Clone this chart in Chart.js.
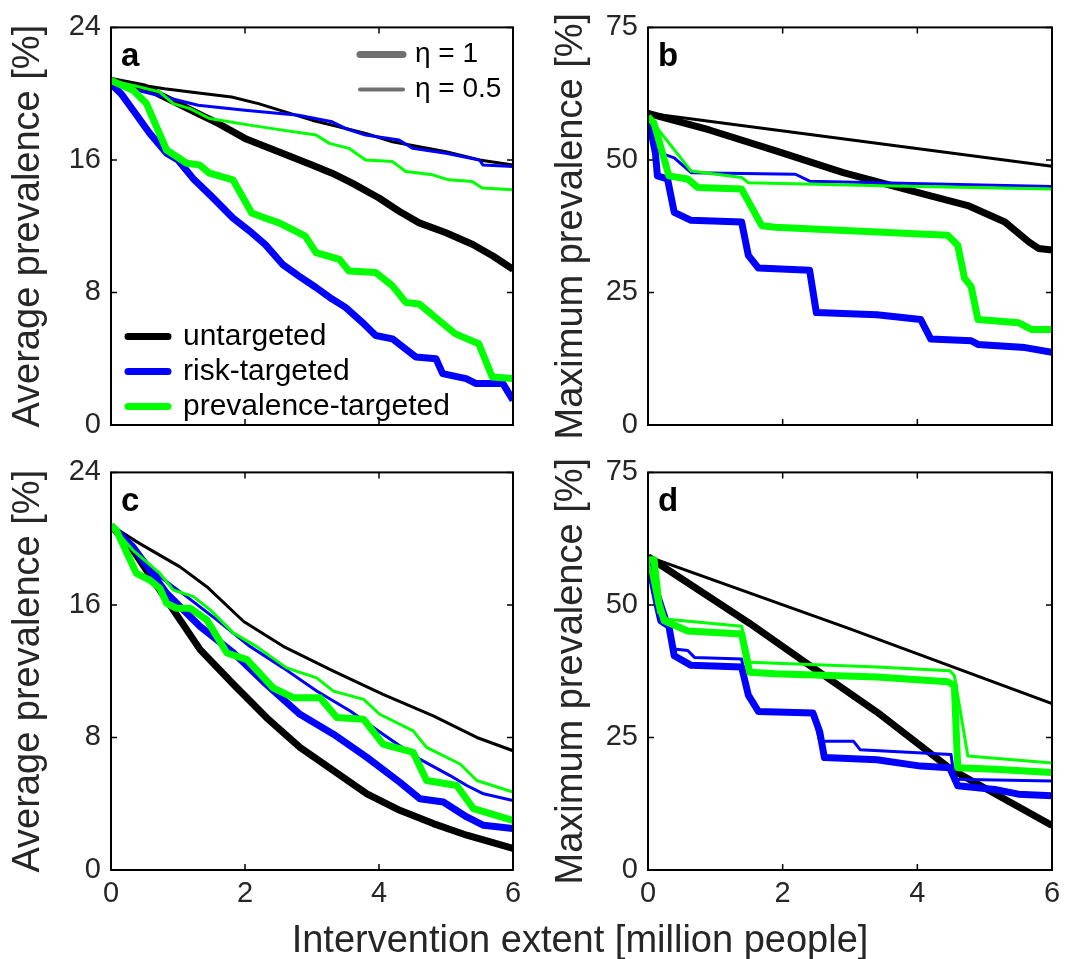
<!DOCTYPE html>
<html lang="en">
<head>
<meta charset="UTF-8">
<title>Average and maximum prevalence vs intervention extent</title>
<script src="https://cdn.jsdelivr.net/npm/chart.js"></script>
<style>
  body { margin: 0; background: #fff; font-family: 'Liberation Sans', Arial, sans-serif; }
  #wrap { position: relative; width: 1072px; height: 959px; overflow: hidden; }
  .panel { position: absolute; }
  #xtitle {
    position: absolute; left: 280px; top: 920px; width: 600px;
    text-align: center; font-size: 38px; line-height: 38px; color: #262626;
  }
</style>
</head>
<body>
<div id="wrap">
  <div class="panel" style="left:0px;top:0px"><canvas id="ca" width="536" height="480"></canvas></div>
  <div class="panel" style="left:536px;top:0px"><canvas id="cb" width="536" height="480"></canvas></div>
  <div class="panel" style="left:0px;top:445px"><canvas id="cc" width="536" height="480"></canvas></div>
  <div class="panel" style="left:536px;top:445px"><canvas id="cd" width="536" height="480"></canvas></div>
  <div id="xtitle">Intervention extent [million people]</div>
</div>

<script>
// tick values
var xTicks = [0, 2, 4, 6];
var avgTicks = [0, 8, 16, 24];
var maxTicks = [0, 25, 50, 75];

// ---- panel a: average prevalence, eta = 1 (thick) and eta = 0.5 (thin)
var aUntg1 = [[0,20.8],[0.5,20.4],[0.9,19.6],[1.3,18.8],[1.6,18.2],[2.0,17.3],[2.5,16.5],[3.0,15.7],[3.3,15.2],[3.6,14.6],[4.0,13.7],[4.3,12.9],[4.6,12.2],[5.0,11.6],[5.4,10.9],[5.7,10.2],[6,9.4]];
var aUntg05 = [[0,20.8],[0.8,20.3],[1.4,20.0],[1.8,19.8],[2.2,19.4],[2.6,18.9],[3.0,18.4],[3.4,18.0],[3.8,17.6],[4.2,17.1],[4.6,16.8],[5.0,16.5],[5.5,16.0],[6,15.7]];
var aRisk1 = [[0,20.6],[0.15,20.0],[0.33,19.0],[0.58,17.6],[0.83,16.4],[1.0,16.0],[1.22,14.9],[1.5,13.8],[1.82,12.5],[2.1,11.6],[2.3,10.9],[2.56,9.7],[2.8,9.0],[3.06,8.3],[3.3,7.6],[3.5,7.1],[3.75,6.2],[3.95,5.4],[4.2,5.2],[4.55,4.1],[4.85,4.0],[4.95,3.1],[5.3,2.8],[5.45,2.5],[5.85,2.5],[6,1.5]];
var aRisk05 = [[0,20.8],[0.3,20.3],[0.7,19.9],[1.3,19.3],[2.0,19.0],[2.8,18.7],[3.3,18.3],[3.5,17.9],[3.8,17.5],[4.3,17.2],[4.5,16.7],[5.0,16.4],[5.5,16.0],[5.55,15.7],[6,15.6]];
var aPrev1 = [[0,20.8],[0.33,20.2],[0.53,19.4],[0.68,18.0],[0.83,16.6],[1.13,15.8],[1.32,15.7],[1.47,15.2],[1.82,14.8],[2.1,12.8],[2.3,12.5],[2.51,12.2],[2.9,11.4],[3.06,10.4],[3.41,10.0],[3.55,9.3],[3.95,9.2],[4.2,8.4],[4.4,7.4],[4.6,7.3],[4.9,6.3],[5.14,5.5],[5.49,4.9],[5.69,2.9],[6,2.8]];
var aPrev05 = [[0,20.8],[0.33,20.5],[0.73,20.1],[0.93,19.4],[1.18,19.1],[1.47,18.5],[2.07,18.1],[2.56,17.8],[3.06,17.5],[3.26,17.0],[3.55,16.7],[3.8,16.0],[4.2,15.9],[4.4,15.3],[4.8,15.1],[5.04,14.8],[5.39,14.7],[5.54,14.3],[6,14.2]];

// ---- panel b: maximum prevalence
var bUntg1 = [[0,58.8],[0.9,55.7],[1.9,51.7],[2.9,47.6],[3.9,44.2],[4.75,41.4],[5.3,38.3],[5.66,34.5],[5.8,33.3],[6,33.0]];
var bUntg05 = [[0,58.8],[3,53.8],[6,48.8]];
var bRisk1 = [[0,58.2],[0.11,51.3],[0.14,47.0],[0.29,46.4],[0.39,40.1],[0.64,38.6],[1.39,38.3],[1.49,32.0],[1.64,29.6],[2.4,29.2],[2.5,21.2],[3.4,20.8],[4.05,19.9],[4.2,16.2],[4.8,15.9],[4.9,15.2],[5.6,14.6],[6,13.7]];
var bRisk05 = [[0,58.2],[0.19,51.3],[0.39,50.4],[0.64,47.6],[2.19,47.3],[2.4,46.0],[3.4,45.7],[6,45.0]];
var bPrev1 = [[0,58.2],[0.09,56.9],[0.31,47.0],[0.59,46.4],[0.74,44.8],[1.39,44.5],[1.69,37.6],[1.89,37.3],[3.4,36.4],[4.45,35.8],[4.6,33.9],[4.7,27.7],[4.8,26.1],[4.9,19.9],[5.5,19.3],[5.7,18.0],[6,18.0]];
var bPrev05 = [[0,58.2],[0.64,47.9],[1.39,46.7],[1.49,45.7],[3.65,45.1],[6,44.5]];

// ---- panel c: average prevalence, second scenario
var cUntg1 = [[0,20.8],[0.33,19.3],[0.83,16.3],[1.33,13.3],[1.83,11.2],[2.32,9.2],[2.82,7.4],[3.32,6.0],[3.82,4.6],[4.31,3.6],[4.81,2.8],[5.31,2.1],[6,1.3]];
var cUntg05 = [[0,20.8],[0.43,19.7],[1.03,18.3],[1.43,17.1],[1.98,15.0],[2.57,13.5],[3.32,12.0],[4.06,10.6],[4.81,9.3],[5.46,8.0],[6,7.2]];
var cRisk1 = [[0,20.8],[0.33,19.5],[0.83,16.7],[1.33,14.7],[1.83,13.1],[2.32,11.2],[2.82,9.4],[3.32,8.2],[3.82,6.8],[4.31,5.3],[4.61,4.3],[4.96,4.1],[5.31,3.2],[5.56,2.7],[6,2.5]];
var cRisk05 = [[0,20.8],[0.33,19.5],[0.73,17.7],[1.13,16.5],[1.58,15.1],[2.07,13.5],[2.57,12.2],[3.07,10.8],[3.57,9.6],[4.06,8.2],[4.56,6.8],[5.06,5.7],[5.31,5.1],[5.56,4.6],[6,4.2]];
var cPrev1 = [[0,20.8],[0.08,20.5],[0.38,17.9],[0.58,17.5],[0.73,17.0],[0.83,16.1],[0.98,15.8],[1.18,15.8],[1.43,15.1],[1.73,13.1],[2.03,12.7],[2.42,11.0],[2.72,10.4],[3.12,10.4],[3.37,9.2],[3.77,9.1],[4.06,7.6],[4.51,7.1],[4.71,5.4],[5.16,5.1],[5.41,3.7],[6,3.0]];
var cPrev05 = [[0,20.8],[0.33,19.3],[0.73,17.9],[0.93,16.9],[1.23,16.5],[1.48,15.7],[1.83,14.3],[2.17,13.5],[2.62,12.2],[3.07,11.6],[3.32,10.8],[3.77,10.3],[4.01,9.4],[4.51,8.4],[4.71,7.4],[5.21,6.4],[5.46,5.4],[6,4.7]];

// ---- panel d: maximum prevalence, second scenario
var dUntg1 = [[0,59.1],[1.5,46.6],[2.4,38.6],[3.4,29.8],[4.5,19.0],[6,8.4]];
var dUntg05 = [[0,59.1],[3,45.5],[6,31.4]];
var dRisk1 = [[0,58.5],[0.14,49.8],[0.19,47.0],[0.31,46.0],[0.39,40.4],[0.64,38.6],[1.39,38.3],[1.49,33.0],[1.64,29.9],[2.45,29.6],[2.55,26.1],[2.62,21.2],[3.4,20.8],[4.05,19.6],[4.48,19.3],[4.6,15.9],[5.15,15.2],[5.5,14.3],[6,14.0]];
var dRisk05 = [[0,58.5],[0.29,47.3],[0.39,41.7],[0.59,41.4],[0.69,40.1],[1.39,39.8],[1.49,33.0],[1.64,29.9],[2.45,29.6],[2.55,24.3],[3.05,24.3],[3.15,22.7],[4.5,21.8],[4.55,17.1],[6,16.8]];
var dPrev1 = [[0,58.5],[0.09,58.5],[0.16,50.4],[0.24,47.0],[0.59,45.1],[1.39,44.5],[1.51,37.3],[1.89,37.0],[3.4,36.4],[4.45,35.5],[4.55,34.8],[4.6,19.3],[5.15,19.0],[6,18.4]];
var dPrev05 = [[0,58.5],[0.16,48.5],[0.29,47.3],[1.39,46.0],[1.51,39.2],[3.4,38.3],[4.48,37.6],[4.55,36.7],[4.75,21.5],[6,20.2]];

var FONT = "'Liberation Sans', Arial, sans-serif";
var TEXT = '#262626';
var BLACK = '#000000', BLUE = '#0000ff', GREEN = '#00ff00';
var THICK = 7, THIN = 3;

function toPts(arr) {
    return arr.map(function (p) { return { x: p[0], y: p[1] }; });
}

function line(arr, color, width, order) {
    return {
        data: toPts(arr),
        borderColor: color,
        borderWidth: width,
        pointRadius: 0,
        tension: 0,
        fill: false,
        borderJoinStyle: 'round',
        order: order
    };
}

// box with inward ticks, panel letter and (panel a) legend
var boxPlugin = {
    id: 'box',
    afterDraw: function (chart, args, opts) {
        var ctx = chart.ctx, a = chart.chartArea;
        var xs = chart.scales.x, ys = chart.scales.y;
        ctx.save();
        ctx.strokeStyle = '#000';
        ctx.lineWidth = 2;
        ctx.strokeRect(a.left, a.top, a.right - a.left, a.bottom - a.top);
        ctx.lineWidth = 1.5;
        ctx.beginPath();
        xTicks.forEach(function (v) {
            var px = xs.getPixelForValue(v);
            ctx.moveTo(px, a.bottom); ctx.lineTo(px, a.bottom - 6);
            ctx.moveTo(px, a.top); ctx.lineTo(px, a.top + 6);
        });
        opts.yTicks.forEach(function (v) {
            var py = ys.getPixelForValue(v);
            ctx.moveTo(a.left, py); ctx.lineTo(a.left + 6, py);
            ctx.moveTo(a.right, py); ctx.lineTo(a.right - 6, py);
        });
        ctx.stroke();

        ctx.fillStyle = '#000';
        ctx.font = 'bold 33px ' + FONT;
        ctx.textBaseline = 'alphabetic';
        ctx.fillText(opts.letter, a.left + 10, a.top + 39);

        if (opts.legend) {
            ctx.lineCap = 'round';
            ctx.textBaseline = 'middle';
            ctx.font = '30px ' + FONT;
            var items = [['untargeted', BLACK], ['risk-targeted', BLUE], ['prevalence-targeted', GREEN]];
            items.forEach(function (it, i) {
                var y = a.top + 309 + i * 35;
                ctx.strokeStyle = it[1];
                ctx.lineWidth = THICK;
                ctx.beginPath(); ctx.moveTo(a.left + 17, y); ctx.lineTo(a.left + 57, y); ctx.stroke();
                ctx.fillStyle = '#000';
                ctx.fillText(it[0], a.left + 72, y);
            });
            ctx.font = '28px ' + FONT;
            var etas = [['\u03b7 = 1', THICK], ['\u03b7 = 0.5', THIN + 1]];
            etas.forEach(function (it, i) {
                var y = a.top + 27 + i * 35;
                ctx.strokeStyle = '#707070';
                ctx.lineWidth = it[1];
                ctx.beginPath(); ctx.moveTo(a.left + 249, y); ctx.lineTo(a.left + 292, y); ctx.stroke();
                ctx.fillStyle = '#000';
                ctx.fillText(it[0], a.left + 304, y);
            });
        }
        ctx.restore();
    }
};

function makePanel(id, p) {
    var datasets = [
        line(p.untg1, BLACK, THICK, 6),
        line(p.untg05, BLACK, THIN, 5),
        line(p.risk1, BLUE, THICK, 4),
        line(p.risk05, BLUE, THIN, 3),
        line(p.prev1, GREEN, THICK, 2),
        line(p.prev05, GREEN, THIN, 1)
    ];
    var ctx = document.getElementById(id).getContext('2d');
    return new Chart(ctx, {
        type: 'line',
        data: { datasets: datasets },
        options: {
            responsive: false,
            animation: false,
            layout: { padding: { left: 0, top: 23, right: p.padRight, bottom: 20 } },
            plugins: {
                legend: { display: false },
                tooltip: { enabled: false },
                box: { yTicks: p.yTicks, letter: p.letter, legend: p.legend }
            },
            scales: {
                x: {
                    type: 'linear', min: 0, max: 6,
                    grid: { display: false, drawTicks: false },
                    border: { display: false },
                    ticks: { display: p.xLabels, color: TEXT, padding: 7, maxRotation: 0, font: { family: FONT, size: 29 } },
                    afterBuildTicks: function (s) { s.ticks = xTicks.map(function (v) { return { value: v }; }); },
                    afterFit: function (s) { s.height = 35; }
                },
                y: {
                    type: 'linear', min: 0, max: p.yMax,
                    grid: { display: false, drawTicks: false },
                    border: { display: false },
                    ticks: { color: TEXT, padding: 10, font: { family: FONT, size: 29 } },
                    afterBuildTicks: function (s) { s.ticks = p.yTicks.map(function (v) { return { value: v }; }); },
                    afterFit: function (s) { s.width = p.axisW; },
                    title: {
                        display: true, text: p.yTitle, color: TEXT,
                        font: { family: FONT, size: 38 },
                        padding: { top: p.titlePad, bottom: 0 }
                    }
                }
            }
        },
        plugins: [boxPlugin]
    });
}

window.onload = function () {
    makePanel('ca', { untg1: aUntg1, untg05: aUntg05, risk1: aRisk1, risk05: aRisk05, prev1: aPrev1, prev05: aPrev05,
        yTicks: avgTicks, yMax: 24, yTitle: 'Average prevalence [%]', letter: 'a', legend: true,
        xLabels: false, axisW: 111, padRight: 23, titlePad: 6 });
    makePanel('cb', { untg1: bUntg1, untg05: bUntg05, risk1: bRisk1, risk05: bRisk05, prev1: bPrev1, prev05: bPrev05,
        yTicks: maxTicks, yMax: 75, yTitle: 'Maximum prevalence [%]', letter: 'b', legend: false,
        xLabels: false, axisW: 112, padRight: 20, titlePad: 13 });
    makePanel('cc', { untg1: cUntg1, untg05: cUntg05, risk1: cRisk1, risk05: cRisk05, prev1: cPrev1, prev05: cPrev05,
        yTicks: avgTicks, yMax: 24, yTitle: 'Average prevalence [%]', letter: 'c', legend: false,
        xLabels: true, axisW: 111, padRight: 23, titlePad: 6 });
    makePanel('cd', { untg1: dUntg1, untg05: dUntg05, risk1: dRisk1, risk05: dRisk05, prev1: dPrev1, prev05: dPrev05,
        yTicks: maxTicks, yMax: 75, yTitle: 'Maximum prevalence [%]', letter: 'd', legend: false,
        xLabels: true, axisW: 112, padRight: 20, titlePad: 13 });
};
</script>
</body>
</html>
